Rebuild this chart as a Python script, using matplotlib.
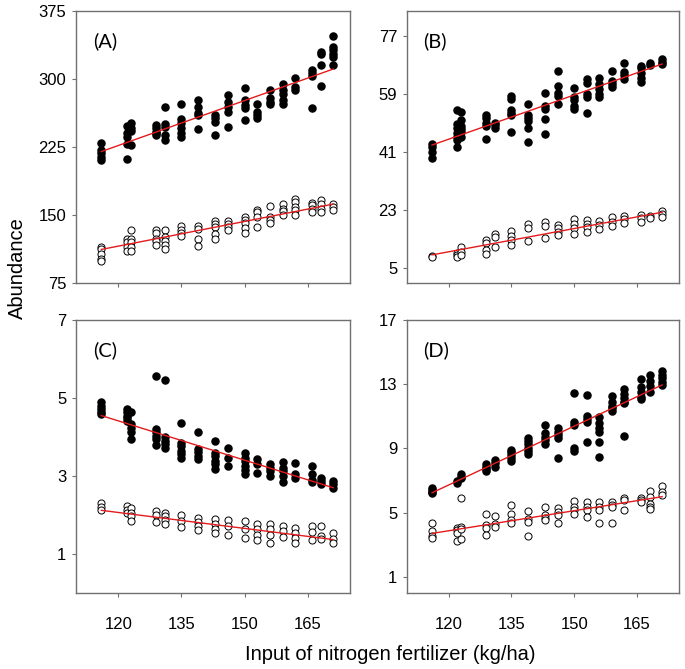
import matplotlib.pyplot as plt

# nitrogen input levels (x positions of the point columns)
x_levels = [116, 122, 123, 129, 131, 135, 139, 143, 146, 150, 153, 156, 159, 162, 166, 168, 171]
fit_x = [116, 171]

# (A)
a_filled = [
    [229, 222, 218, 214, 211], [248, 240, 236, 228, 212], [252, 246, 243, 227],
    [249, 246, 242, 240, 238], [269, 250, 247, 238, 233], [272, 256, 252, 246, 240, 236],
    [277, 269, 262, 260, 245], [260, 257, 253, 238], [282, 275, 269, 264, 247],
    [290, 277, 271, 268, 255], [272, 264, 260, 257], [288, 279, 275, 273],
    [294, 288, 284, 277, 273], [301, 291, 288], [310, 307, 303, 268],
    [330, 328, 316, 292], [347, 335, 332, 328, 324, 316],
]
a_open = [
    [115, 112, 107, 102, 99], [124, 120, 115, 110], [134, 124, 120, 115, 110],
    [134, 130, 124, 121, 117], [134, 126, 121, 117, 112], [138, 134, 130, 127],
    [138, 135, 123, 116], [143, 140, 137, 129, 123], [143, 140, 137, 133],
    [148, 145, 141, 136, 130], [156, 153, 148, 137], [160, 148, 145, 141],
    [162, 157, 154, 150], [168, 164, 159, 155, 150], [163, 161, 157, 153],
    [166, 162, 157, 153], [162, 159, 156],
]
a_fit_filled = [220, 311]
a_fit_open = [112, 162]

# (B)
b_filled = [
    [43.5, 42.7, 41.2, 39.3], [54.1, 49.7, 48.4, 46.8, 45.6, 44.8, 42.7], [53.5, 51.0, 49.1, 48.1, 47.4, 45.8],
    [52.5, 51.5, 49.9, 49.1, 45.0], [50.1, 49.4, 48.4], [58.4, 57.4, 54.1, 53.0, 52.5, 47.4],
    [55.9, 52.5, 51.5, 50.8, 48.4, 44.0], [59.4, 55.3, 54.3, 51.2, 46.6], [66.2, 61.5, 59.2, 58.4, 55.8],
    [60.8, 58.0, 57.2, 55.3, 54.3], [63.6, 62.3, 58.9, 58.0, 53.2], [63.9, 62.1, 60.5, 59.0, 58.0],
    [66.2, 63.1, 62.1, 61.1], [68.5, 65.9, 64.9, 63.7], [67.7, 67.0, 65.4, 63.9, 62.8],
    [68.7, 68.0], [69.8, 69.0, 68.3],
]
b_open = [
    [8.8, 8.4], [9.9, 9.1, 8.4], [11.5, 10.2, 9.1], [13.8, 13.0, 10.7, 9.6], [15.8, 14.8, 11.7],
    [16.6, 15.1, 13.8, 12.2], [18.7, 17.4, 13.6], [19.5, 18.1, 14.3], [18.6, 17.4, 16.4, 15.3],
    [20.3, 18.9, 17.4, 15.8], [20.0, 18.9, 17.7, 16.4], [19.7, 18.4, 17.1], [20.8, 19.5, 18.1],
    [21.2, 20.3, 19.2], [21.5, 20.5, 19.3], [21.2, 20.5], [22.9, 22.0, 21.0],
]
b_fit_filled = [43.2, 68.3]
b_fit_open = [9.2, 22.4]

# (C)
c_filled = [
    [4.89, 4.80, 4.72, 4.63, 4.59], [4.73, 4.65, 4.55, 4.48, 4.42], [4.63, 4.33, 4.24, 4.12, 3.94],
    [5.56, 4.20, 4.12, 4.03, 3.94, 3.79], [5.47, 3.99, 3.90, 3.82, 3.73], [4.37, 3.84, 3.77, 3.64, 3.56, 3.47],
    [4.14, 3.70, 3.62, 3.52, 3.43], [3.90, 3.60, 3.52, 3.39, 3.30, 3.19], [3.73, 3.45, 3.26],
    [3.60, 3.47, 3.39, 3.26, 3.15, 3.04], [3.43, 3.30, 3.09], [3.30, 3.21, 3.13, 3.00],
    [3.36, 3.21, 3.13, 3.00, 2.85], [3.33, 3.04, 2.96], [3.26, 3.04, 2.91, 2.85],
    [2.96, 2.87, 2.79], [2.87, 2.79, 2.70],
]
c_open = [
    [2.30, 2.21, 2.12], [2.23, 2.12, 2.04], [2.17, 2.06, 1.97, 1.84], [2.10, 1.99, 1.82],
    [2.06, 1.97, 1.88, 1.76], [1.99, 1.84, 1.69], [1.93, 1.82, 1.71, 1.61], [1.90, 1.78, 1.63, 1.54],
    [1.87, 1.73, 1.48], [1.84, 1.64, 1.41], [1.78, 1.63, 1.50, 1.37], [1.76, 1.63, 1.50, 1.28],
    [1.71, 1.58, 1.44], [1.67, 1.54, 1.41, 1.28], [1.71, 1.56, 1.35], [1.71, 1.46, 1.39],
    [1.54, 1.39, 1.28],
]
c_fit_filled = [4.55, 2.70]
c_fit_open = [2.12, 1.37]

# (D)
d_filled = [
    [6.51, 6.41, 6.31, 6.20], [6.97, 6.83], [7.39, 7.24, 7.14], [8.01, 7.86, 7.72, 7.59],
    [8.28, 8.07, 7.86], [8.90, 8.76, 8.59, 8.43, 8.24], [9.67, 9.47, 9.26, 9.05, 8.84, 8.68],
    [10.46, 9.94, 9.74, 9.53, 9.26], [10.26, 10.05, 9.84, 9.63, 8.38], [12.44, 10.67, 10.46, 9.01, 8.84],
    [12.33, 11.05, 10.84, 10.63, 9.38], [10.98, 10.57, 10.26, 10.01, 9.38, 8.49],
    [12.29, 11.88, 11.67, 11.50, 11.34], [12.69, 12.38, 12.17, 11.92, 11.81, 9.78],
    [13.31, 12.85, 12.54, 12.23, 12.06], [13.58, 13.21, 12.92, 12.54], [13.83, 13.58, 13.37, 13.17, 12.96],
]
d_open = [
    [4.37, 3.87, 3.56, 3.40], [4.06, 3.91, 3.71, 3.23], [5.89, 4.12, 3.98, 3.35], [4.89, 4.23, 4.06, 3.60],
    [4.79, 4.27, 4.12], [5.47, 4.89, 4.54, 4.33], [5.12, 4.64, 4.43, 3.56], [5.37, 4.85, 4.68, 4.54],
    [5.27, 5.06, 4.85, 4.39], [5.74, 5.37, 5.16, 4.95], [5.64, 5.37, 5.16, 4.75], [5.64, 5.37, 5.16, 4.39],
    [5.68, 5.47, 5.37, 4.39], [5.89, 5.79, 5.16], [5.93, 5.79, 5.64], [6.35, 5.99, 5.52, 5.37, 5.23],
    [6.68, 6.31, 6.10],
]
d_fit_filled = [6.24, 12.96]
d_fit_open = [3.71, 6.00]

x_ticks = [120, 135, 150, 165]

panels = [
    ('(A)', a_filled, a_open, a_fit_filled, a_fit_open, (75, 375), [75, 150, 225, 300, 375]),
    ('(B)', b_filled, b_open, b_fit_filled, b_fit_open, (0.5, 84.7), [5, 23, 41, 59, 77]),
    ('(C)', c_filled, c_open, c_fit_filled, c_fit_open, (0, 7), [1, 3, 5, 7]),
    ('(D)', d_filled, d_open, d_fit_filled, d_fit_open, (0, 17), [1, 5, 9, 13, 17]),
]
rects = [
    [0.111, 0.577, 0.400, 0.4065],
    [0.594, 0.577, 0.397, 0.4065],
    [0.111, 0.1136, 0.400, 0.408],
    [0.594, 0.1136, 0.397, 0.408],
]


def flatten(cols):
    xs, ys = [], []
    for x, col in zip(x_levels, cols):
        for y in col:
            xs.append(x)
            ys.append(y)
    return xs, ys


fig = plt.figure(figsize=(6.85, 6.69), dpi=100)
spine_color = '#707070'

for (label, filled, opened, fit_f, fit_o, ylim, yticks), rect in zip(panels, rects):
    ax = fig.add_axes(rect)
    fx, fy = flatten(filled)
    ox, oy = flatten(opened)
    ax.scatter(fx, fy, s=26, color='black', zorder=3)
    ax.scatter(ox, oy, s=26, facecolors='white', edgecolors='black', linewidths=0.7, zorder=3)
    ax.plot(fit_x, fit_f, color='#e41a1c', lw=1.0, zorder=4)
    ax.plot(fit_x, fit_o, color='#e41a1c', lw=1.0, zorder=4)
    ax.set_xlim(110, 175)
    ax.set_ylim(*ylim)
    ax.set_yticks(yticks)
    ax.set_xticks(x_ticks)
    if label in ('(A)', '(B)'):
        ax.set_xticklabels([])
    for s in ax.spines.values():
        s.set_color(spine_color)
        s.set_linewidth(1.0)
    ax.tick_params(direction='out', length=3, width=0.8, color=spine_color,
                   labelsize=12, pad=4)
    for t in ax.get_xticklabels() + ax.get_yticklabels():
        t.set_family('Liberation Sans')
    ax.tick_params(axis='x', pad=14)
    ax.text(0.061, 0.888, label, transform=ax.transAxes, fontsize=14.5,
            family='Lato', va='center', ha='left')

fig.text(0.026, 0.60, 'Abundance', rotation=90, fontsize=14.5, family='Liberation Sans',
         va='center', ha='center')
fig.text(0.569, 0.021, 'Input of nitrogen fertilizer (kg/ha)', fontsize=14.5,
         family='Liberation Sans', va='center', ha='center')

fig.savefig('out.png', dpi=100)
